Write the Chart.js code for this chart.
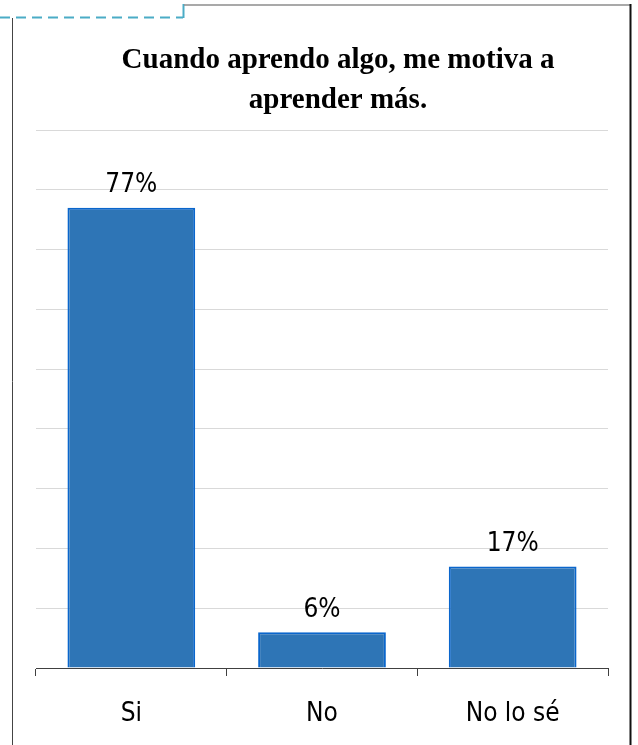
<!DOCTYPE html>
<html>
<head>
<meta charset="utf-8">
<script src="https://cdn.jsdelivr.net/npm/chart.js@4/dist/chart.umd.min.js"></script>
<style>
  html, body { margin: 0; padding: 0; background: #fff; }
  #wrap { position: relative; width: 638px; height: 745px; }
  canvas { display: block; }
</style>
</head>
<body>
<div id="wrap"><canvas id="c" width="638" height="745"></canvas></div>
<script>
const categories = ['Si', 'No', 'No lo sé'];
const values = [77, 6, 17];
const titleLines = ['Cuando aprendo algo, me motiva a', 'aprender más.'];
const yMax = 90;
const yStep = 10;

const LABEL_FONT = '"DejaVu Sans Condensed", "DejaVu Sans"';

const framePlugin = {
  id: 'frame',
  beforeDraw(chart) {
    const ctx = chart.ctx;
    ctx.save();
    ctx.fillStyle = '#ffffff';
    ctx.fillRect(0, 0, chart.width, chart.height);
    ctx.strokeStyle = '#4bacc6';
    ctx.lineWidth = 2;
    ctx.setLineDash([10, 6]);
    ctx.beginPath();
    ctx.moveTo(0, 17.5);
    ctx.lineTo(183, 17.5);
    ctx.stroke();
    ctx.setLineDash([]);
    ctx.beginPath();
    ctx.moveTo(183.5, 18);
    ctx.lineTo(183.5, 4);
    ctx.stroke();
    ctx.strokeStyle = '#8c8c8c';
    ctx.lineWidth = 1.5;
    ctx.beginPath();
    ctx.moveTo(184, 5);
    ctx.lineTo(631, 5);
    ctx.stroke();
    ctx.strokeStyle = '#444444';
    ctx.lineWidth = 1;
    ctx.beginPath();
    ctx.moveTo(12.5, 18);
    ctx.lineTo(12.5, 745);
    ctx.stroke();
    ctx.strokeStyle = '#111111';
    ctx.lineWidth = 2;
    ctx.beginPath();
    ctx.moveTo(630.5, 4);
    ctx.lineTo(630.5, 745);
    ctx.stroke();
    // title
    ctx.fillStyle = '#000000';
    ctx.font = 'bold 29px "Liberation Serif", "Times New Roman", serif';
    ctx.textAlign = 'center';
    ctx.textBaseline = 'middle';
    titleLines.forEach((t, i) => ctx.fillText(t, 338, 61 + i * 39.5));
    ctx.restore();
  }
};

const labelPlugin = {
  id: 'valueLabels',
  afterDatasetsDraw(chart) {
    const ctx = chart.ctx;
    const meta = chart.getDatasetMeta(0);
    ctx.save();
    ctx.font = '26px ' + LABEL_FONT;
    ctx.fillStyle = '#000000';
    ctx.textAlign = 'center';
    ctx.textBaseline = 'middle';
    meta.data.forEach((bar, i) => {
      ctx.fillText(values[i] + '%', bar.x, bar.y - 22);
    });
    ctx.restore();
  }
};

new Chart(document.getElementById('c'), {
  type: 'bar',
  data: {
    labels: categories,
    datasets: [{
      data: values,
      backgroundColor: '#2e75b6',
      borderColor: '#0a66cc',
      borderWidth: 2,
      categoryPercentage: 1,
      barPercentage: 0.67
    }]
  },
  options: {
    responsive: false,
    animation: false,
    devicePixelRatio: 1,
    layout: { padding: { top: 130, left: 36, right: 30, bottom: 0 } },
    plugins: {
      legend: { display: false },
      tooltip: { enabled: false },
      title: { display: false }
    },
    scales: {
      x: {
        grid: { display: true, drawOnChartArea: false, drawTicks: true, tickLength: 8, color: '#404040', offset: true },
        border: { display: true, color: '#404040', width: 1 },
        ticks: { color: '#000000', font: { family: LABEL_FONT, size: 26 }, padding: 23, maxRotation: 0 },
        afterFit(scale) { scale.height = 77; }
      },
      y: {
        min: 0,
        max: yMax,
        ticks: { display: false, stepSize: yStep },
        grid: { color: '#d9d9d9', drawTicks: false },
        border: { display: false },
        afterFit(scale) { scale.width = 0; }
      }
    }
  },
  plugins: [framePlugin, labelPlugin]
});
</script>
</body>
</html>
